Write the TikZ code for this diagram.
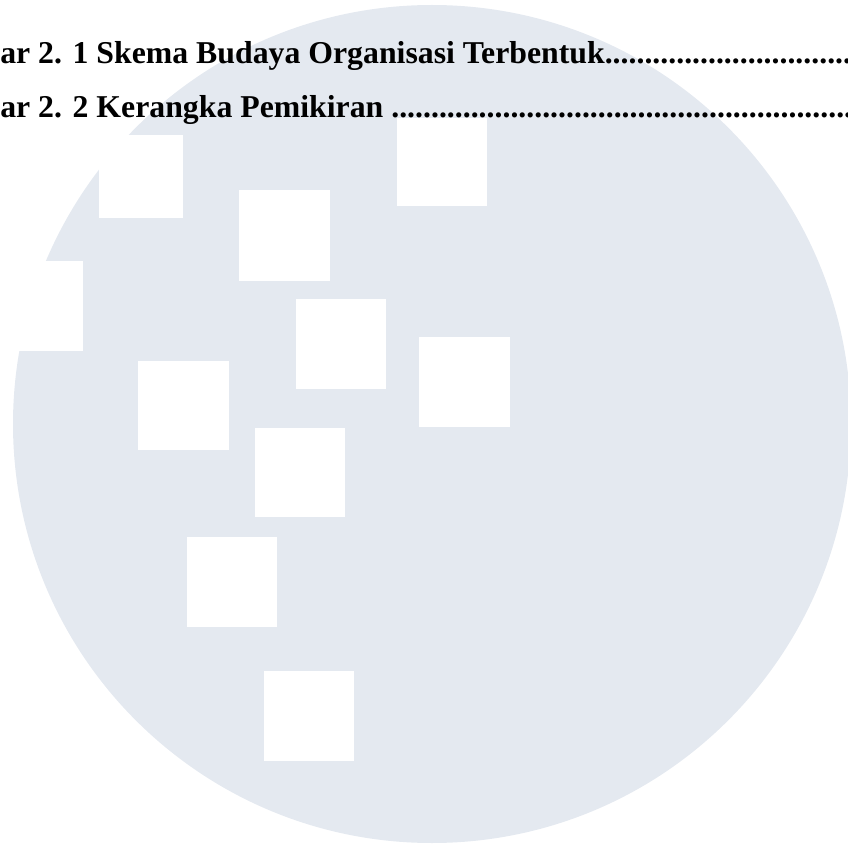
\documentclass[tikz,border=0pt]{standalone}
\usepackage{fontspec}
\setmainfont{Liberation Serif}
\usepackage{xcolor}
\definecolor{discgray}{RGB}{228,233,240}

\begin{document}
\begin{tikzpicture}[x=0.025cm,y=-0.025cm,
  tile/.style={fill=white},
  entry/.style={anchor=base west,inner sep=0pt,font=\fontsize{22.6}{27}\selectfont\bfseries}]
  \useasboundingbox (0,0) rectangle (848,846);
  \clip (0,0) rectangle (848,846);
  \fill[discgray] (432,424) circle (419);
  % white tiles over the disc
  \fill[tile] (99,135) rectangle (183,218);
  \fill[tile] (-7,261) rectangle (83,351);
  \fill[tile] (239,190) rectangle (330,281);
  \fill[tile] (296,299) rectangle (386,389);
  \fill[tile] (138,361) rectangle (229,450);
  \fill[tile] (255,428) rectangle (345,517);
  \fill[tile] (397,118) rectangle (487,206);
  \fill[tile] (419,337) rectangle (510,427);
  \fill[tile] (187,537) rectangle (277,627);
  \fill[tile] (264,671) rectangle (354,761);
  % list entries
  \node[entry] (fig1) at (0,64) {ar 2. 1 Skema Budaya Organisasi Terbentuk................................};
  \node[entry] (fig2) at (0,118) {ar 2. 2 Kerangka Pemikiran ............................................................};
\end{tikzpicture}
\end{document}
